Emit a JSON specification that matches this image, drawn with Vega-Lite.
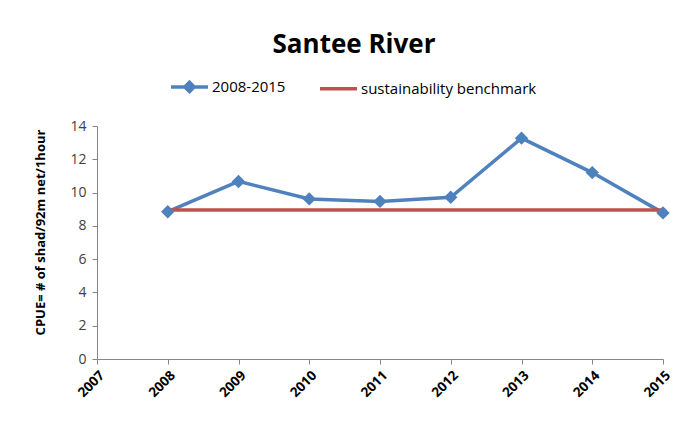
{
  "$schema": "https://vega.github.io/schema/vega-lite/v6.json",
  "width": 566,
  "height": 233,
  "autosize": {"type": "none"},
  "padding": {"left": 97, "top": 126, "right": 25, "bottom": 62},
  "background": "white",
  "title": {
    "text": "Santee River",
    "font": "Open Sans",
    "fontSize": 26,
    "fontWeight": "bold",
    "color": "#000000",
    "anchor": "middle",
    "frame": "group",
    "dx": -26,
    "offset": 8
  },
  "config": {
    "view": {"stroke": null},
    "axis": {"grid": false, "domainColor": "#868686", "tickColor": "#868686", "tickSize": 5, "domainWidth": 1}
  },
  "data": {
    "values": [
      {"year": 2008, "value": 8.85, "series": "2008-2015"},
      {"year": 2009, "value": 10.67, "series": "2008-2015"},
      {"year": 2010, "value": 9.62, "series": "2008-2015"},
      {"year": 2011, "value": 9.47, "series": "2008-2015"},
      {"year": 2012, "value": 9.72, "series": "2008-2015"},
      {"year": 2013, "value": 13.27, "series": "2008-2015"},
      {"year": 2014, "value": 11.2, "series": "2008-2015"},
      {"year": 2015, "value": 8.78, "series": "2008-2015"},
      {"year": 2008, "value": 8.95, "series": "sustainability benchmark"},
      {"year": 2015, "value": 8.95, "series": "sustainability benchmark"}
    ]
  },
  "encoding": {
    "x": {
      "field": "year",
      "type": "quantitative",
      "scale": {"domain": [2007, 2015], "nice": false, "zero": false},
      "axis": {
        "title": null,
        "values": [2007, 2008, 2009, 2010, 2011, 2012, 2013, 2014, 2015],
        "format": "d",
        "labelAngle": -45,
        "labelAlign": "right",
        "labelBaseline": "top",
        "labelFont": "Open Sans",
        "labelFontSize": 13.5,
        "labelFontWeight": "bold",
        "labelColor": "#000000",
        "labelPadding": 4
      }
    },
    "y": {
      "field": "value",
      "type": "quantitative",
      "scale": {"domain": [0, 14], "nice": false},
      "axis": {
        "title": "CPUE= # of shad/92m net/1hour",
        "titleFont": "Open Sans",
        "titleFontSize": 13,
        "titleFontWeight": "bold",
        "titleColor": "#000000",
        "titlePadding": 22,
        "titleY": 106,
        "values": [0, 2, 4, 6, 8, 10, 12, 14],
        "labelFont": "Open Sans",
        "labelFontSize": 14,
        "labelColor": "#404040",
        "labelPadding": 6
      }
    },
    "color": {
      "field": "series",
      "type": "nominal",
      "scale": {"domain": ["2008-2015", "sustainability benchmark"], "range": ["#4F81BD", "#C0504D"]},
      "legend": {
        "title": null,
        "orient": "none",
        "direction": "horizontal",
        "legendX": 72,
        "legendY": -60,
        "columns": 2,
        "columnPadding": 26,
        "symbolSize": 1370,
        "labelFont": "Open Sans",
        "labelFontSize": 15,
        "labelLimit": 400,
        "labelColor": "#000000",
        "labelOffset": 2,
        "encode": {
          "symbols": {
            "update": {
              "shape": {"signal": "datum.value == '2008-2015' ? 'M-1,0L1,0M0,-0.25L0.25,0L0,0.25L-0.25,0Z' : 'M-1,0L1,0'"},
              "stroke": {"scale": "color", "field": "value"},
              "fill": {"scale": "color", "field": "value"},
              "strokeWidth": {"value": 3.5},
              "opacity": {"value": 1}
            }
          }
        }
      }
    }
  },
  "layer": [
    {
      "mark": {"type": "line", "strokeWidth": 3.5}
    },
    {
      "transform": [{"filter": "datum.series == '2008-2015'"}],
      "mark": {"type": "point", "shape": "diamond", "filled": true, "size": 180, "opacity": 1}
    }
  ]
}
